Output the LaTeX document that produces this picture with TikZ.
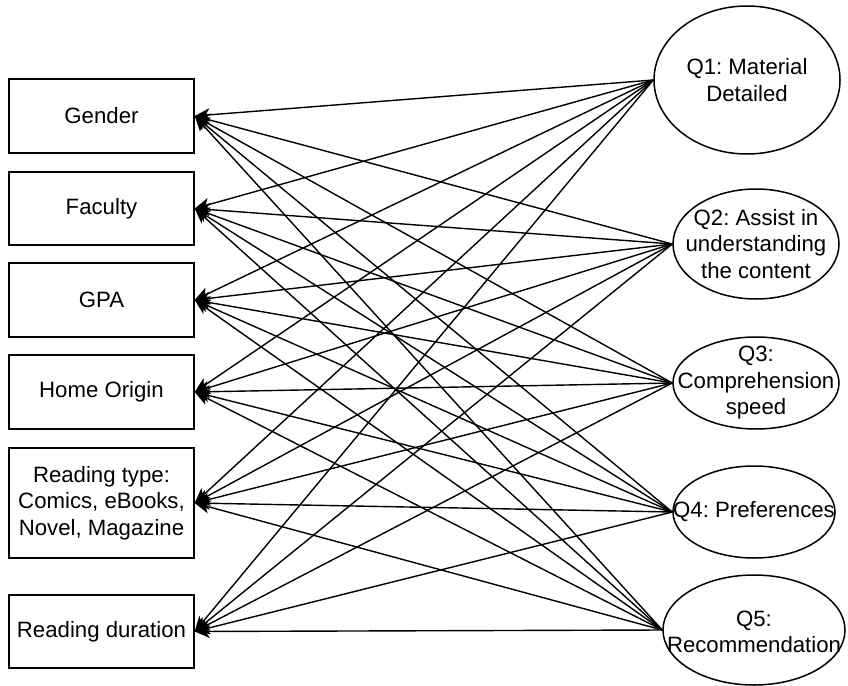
\documentclass[tikz,border=0pt]{standalone}
\usepackage{fontspec}
\setmainfont{Liberation Sans}
\frenchspacing
\usetikzlibrary{shapes.geometric,arrows.meta}
\begin{document}
\begin{tikzpicture}[x=1pt,y=1pt,
  every node/.style={font=\fontsize{22.2}{26.5}\selectfont},
  varbox/.style={draw,line width=1.5pt,rectangle,inner sep=0pt,minimum width=185pt,align=center},
  qell/.style={draw,line width=1.5pt,ellipse,inner sep=0pt},
  qtext/.style={align=center,inner sep=0pt},
  link/.style={line width=1.4pt,-{Stealth[length=15pt,width=13pt,inset=4pt]}}]
\useasboundingbox (0,0) rectangle (848,-685);
% variable boxes
\node[varbox,minimum height=74pt] (b1) at (101.5,-116) {Gender};
\node[varbox,minimum height=73pt] (b2) at (101.5,-208.5) {Faculty};
\node[varbox,minimum height=74pt] (b3) at (101.5,-300) {GPA};
\node[varbox,minimum height=74pt] (b4) at (101.5,-392) {Home Origin};
\node[varbox,minimum height=110pt] (b5) at (101.5,-503) {Reading type:\\Comics, eBooks,\\Novel, Magazine};
\node[varbox,minimum height=73pt] (b6) at (101.5,-631.5) {Reading duration};
% question ellipses
\node[qell,minimum width=186pt,minimum height=148pt] (q1) at (747,-80) {};
\node[qell,minimum width=166pt,minimum height=110pt] (q2) at (756,-244) {};
\node[qell,minimum width=166pt,minimum height=92pt] (q3) at (756,-383) {};
\node[qell,minimum width=162pt,minimum height=92pt] (q4) at (754,-512) {};
\node[qell,minimum width=182pt,minimum height=110pt] (q5) at (754,-630) {};
\node[qtext] (t1) at (q1) {Q1: Material\\Detailed};
\node[qtext] (t2) at (q2) {Q2: Assist in\\understanding\\the content};
\node[qtext] (t3) at (q3) {Q3:\\Comprehension\\speed};
\node[qtext] (t4) at (q4) {Q4: Preferences};
\node[qtext] (t5) at ([yshift=-2pt]q5) {Q5:\\Recommendation};
% connectors
\foreach \q in {1,...,5}{
  \foreach \b in {1,...,6}{
    \draw[link] (q\q.west) -- (b\b.east);
  }
}
\end{tikzpicture}
\end{document}
